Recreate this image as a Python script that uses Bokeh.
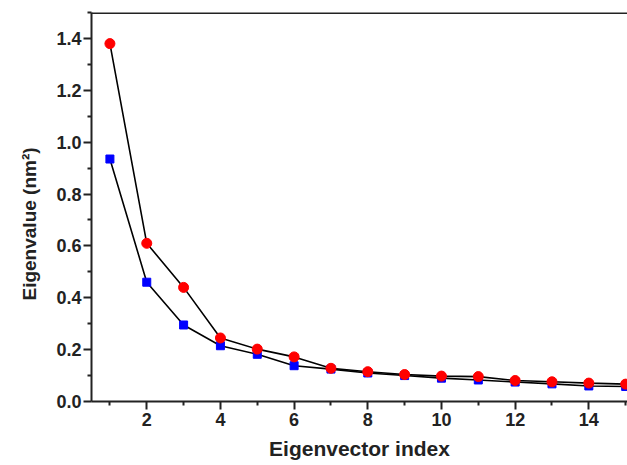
from bokeh.plotting import figure
from bokeh.models import Range1d, FixedTicker, CustomJSTickFormatter, Title, Span
from bokeh.embed import file_html
from bokeh.resources import INLINE

index = list(range(1, 16))
red_vals = [1.38, 0.61, 0.44, 0.245, 0.202, 0.172, 0.128, 0.115, 0.104, 0.098, 0.096, 0.081, 0.076, 0.071, 0.067]
blue_vals = [0.935, 0.46, 0.295, 0.215, 0.182, 0.138, 0.125, 0.11, 0.1, 0.09, 0.083, 0.075, 0.068, 0.06, 0.058]

x_ticks = [2, 4, 6, 8, 10, 12, 14]
x_minor = [1, 3, 5, 7, 9, 11, 13, 15]
y_ticks = [0.0, 0.2, 0.4, 0.6, 0.8, 1.0, 1.2, 1.4]
y_minor = [0.1, 0.3, 0.5, 0.7, 0.9, 1.1, 1.3, 1.5]
x_label = "Eigenvector index"
y_label = "Eigenvalue (nm²)"

p = figure(width=627, height=465, output_backend="svg", toolbar_location=None,
           x_range=Range1d(0.5, 15.05), y_range=Range1d(0, 1.5),
           min_border_left=91, min_border_right=0, min_border_top=12, min_border_bottom=64)
p.grid.visible = False
p.outline_line_color = None
p.background_fill_color = "white"
p.border_fill_color = "white"

p.line(index, red_vals, line_color="black", line_width=1.6)
p.line(index, blue_vals, line_color="black", line_width=1.6)
p.scatter(index, blue_vals, marker="square", size=8, fill_color="#0000ff", line_color="#0000ff")
p.scatter(index, red_vals, marker="circle", size=10, fill_color="#ff0000", line_color="#ff0000")

font = "Liberation Sans"
for ax in (p.xaxis[0], p.yaxis[0]):
    ax.axis_line_width = 2
    ax.axis_line_color = "#222222"
    ax.major_tick_line_width = 2
    ax.minor_tick_line_width = 2
    ax.major_tick_line_color = "#222222"
    ax.minor_tick_line_color = "#222222"
    ax.major_tick_out = 8
    ax.major_tick_in = 0
    ax.minor_tick_out = 4
    ax.minor_tick_in = 0
    ax.major_label_text_font = font
    ax.major_label_text_font_style = "bold"
    ax.major_label_text_font_size = "18px"
    ax.major_label_text_color = "#222222"
    ax.axis_label_text_font = font
    ax.axis_label_text_font_style = "bold"
    ax.axis_label_text_color = "#222222"

p.xaxis[0].ticker = FixedTicker(ticks=x_ticks, minor_ticks=x_minor)
p.yaxis[0].ticker = FixedTicker(ticks=y_ticks, minor_ticks=y_minor)
p.yaxis[0].formatter = CustomJSTickFormatter(code="return tick.toFixed(1);")
p.xaxis[0].major_label_standoff = 3
p.yaxis[0].major_label_standoff = 2
p.xaxis[0].axis_label = x_label
p.xaxis[0].axis_label_text_font_size = "21px"
p.xaxis[0].axis_label_standoff = 8

ytitle = Title(text=y_label, align="left", offset=101, standoff=28,
               text_font=font, text_font_style="bold", text_font_size="19px",
               text_color="#222222")
p.add_layout(ytitle, "left")

top_border = Span(location=1.5, dimension="width", line_color="#222222", line_width=3)
p.add_layout(top_border)

open("out.html", "w").write(file_html(p, INLINE))
